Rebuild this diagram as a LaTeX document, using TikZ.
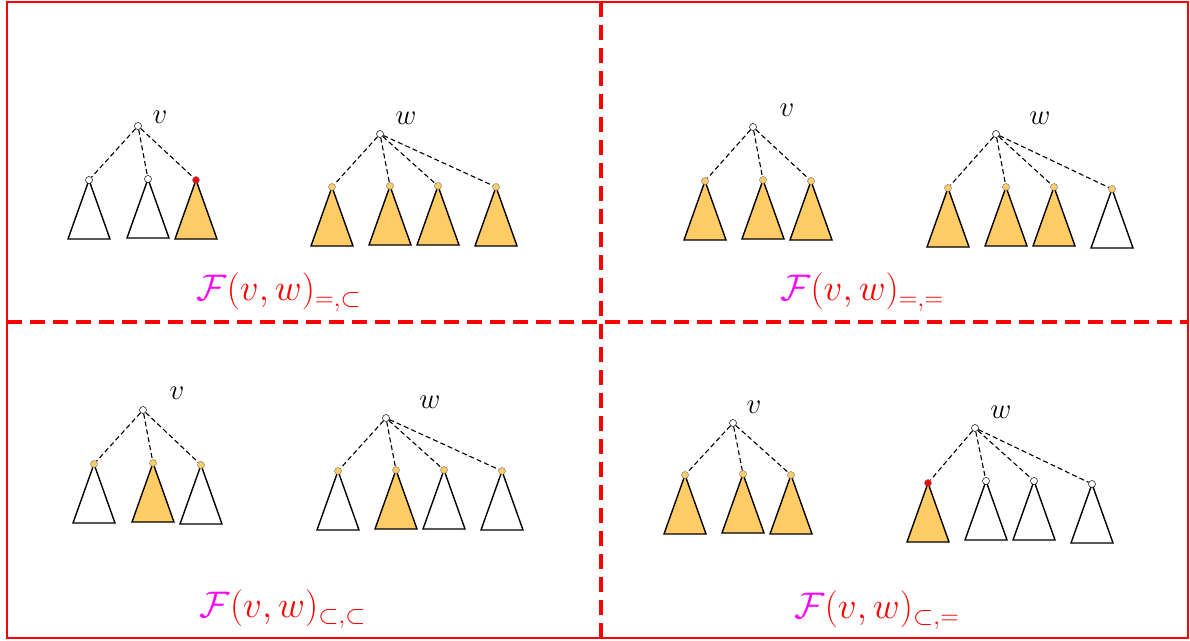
\documentclass[tikz,border=0pt]{standalone}
\usepackage{fix-cm}
\usepackage{amsmath}
\usetikzlibrary{positioning, backgrounds}
\definecolor{subOrange}{RGB}{255,204,102}
\definecolor{famMagenta}{RGB}{255,0,255}
\definecolor{famRed}{RGB}{255,0,0}
\tikzset{
    % Frame
    frame/.style={draw=famRed, line width=1.5pt},
    divider/.style={draw=famRed, line width=4pt, dash pattern=on 15pt off 8pt},
    % Dots
    dot/.style={circle, inner sep=0pt, minimum size=7pt, line width=0.5pt},
    rootDot/.style={dot, draw=black, fill=white},
    dotW/.style={dot, draw=black, fill=white},
    dotO/.style={dot, draw=black!50, fill=subOrange},
    dotR/.style={dot, draw=black!50, fill=famRed},
    % Subtrees
    full/.style={draw=black, line width=1.4pt, fill=subOrange},
    blank/.style={draw=black, line width=1.4pt, fill=white},
    link/.style={line width=1.1pt, dash pattern=on 5pt off 3pt},
    % Labels
    lbl/.style={inner sep=0pt, font=\fontsize{29}{31}\selectfont},
    fam/.style={inner sep=0pt, text=famRed, font=\fontsize{37}{40}\selectfont}
}
\newcommand{\subtri}[2]{%
    \begin{pgfonlayer}{background}
    \draw[#1] (#2.center) -- ++(-21,59) -- ++(42,0) -- cycle;
    \end{pgfonlayer}}

\begin{document}
\begin{tikzpicture}[x=1pt, y=-1pt]
\useasboundingbox (0,0) rectangle (1190,640);

\draw[frame] (7,2) rectangle (1188,638);
\draw[divider] (601,2) -- (601,638);
\draw[divider] (7,322) -- (1188,322);

% top left
\node[rootDot] (tlv) at (138,126) {};
\node[lbl] (tlvl) at (160,117) {$v$};
\foreach \i/\x/\y/\d/\s in {1/89/180/dotW/blank, 2/148/179/dotW/blank, 3/196/180/dotR/full} {
    \node[\d] (tlv\i) at (\x,\y) {};
    \subtri{\s}{tlv\i}
    \draw[link] (tlv) -- (tlv\i);
}
\node[rootDot] (tlw) at (380,134) {};
\node[lbl] (tlwl) at (406,118) {$w$};
\foreach \i/\x/\y/\d/\s in {1/332/187/dotO/full, 2/390/186/dotO/full, 3/438/186/dotO/full, 4/496/187/dotO/full} {
    \node[\d] (tlw\i) at (\x,\y) {};
    \subtri{\s}{tlw\i}
    \draw[link] (tlw) -- (tlw\i);
}
\node[fam] (tlf) at (279,292) {$\color{famMagenta}\mathcal{F}\color{famRed}(v,w)_{=,\subset}$};

% top right
\node[rootDot] (trv) at (753,127) {};
\node[lbl] (trvl) at (787,110) {$v$};
\foreach \i/\x/\y/\d/\s in {1/705/181/dotO/full, 2/763/180/dotO/full, 3/811/181/dotO/full} {
    \node[\d] (trv\i) at (\x,\y) {};
    \subtri{\s}{trv\i}
    \draw[link] (trv) -- (trv\i);
}
\node[rootDot] (trw) at (996,134) {};
\node[lbl] (trwl) at (1040,118) {$w$};
\foreach \i/\x/\y/\d/\s in {1/948/188/dotO/full, 2/1006/187/dotO/full, 3/1054/187/dotO/full, 4/1112/189/dotO/blank} {
    \node[\d] (trw\i) at (\x,\y) {};
    \subtri{\s}{trw\i}
    \draw[link] (trw) -- (trw\i);
}
\node[fam] (trf) at (862,292) {$\color{famMagenta}\mathcal{F}\color{famRed}(v,w)_{=,=}$};

% bottom left
\node[rootDot] (blv) at (143,410) {};
\node[lbl] (blvl) at (177,393) {$v$};
\foreach \i/\x/\y/\d/\s in {1/94/464/dotO/blank, 2/153/463/dotO/full, 3/201/465/dotO/blank} {
    \node[\d] (blv\i) at (\x,\y) {};
    \subtri{\s}{blv\i}
    \draw[link] (blv) -- (blv\i);
}
\node[rootDot] (blw) at (386,418) {};
\node[lbl] (blwl) at (430,402) {$w$};
\foreach \i/\x/\y/\d/\s in {1/338/471/dotO/blank, 2/396/470/dotO/full, 3/444/470/dotO/blank, 4/502/471/dotO/blank} {
    \node[\d] (blw\i) at (\x,\y) {};
    \subtri{\s}{blw\i}
    \draw[link] (blw) -- (blw\i);
}
\node[fam] (blf) at (283,609) {$\color{famMagenta}\mathcal{F}\color{famRed}(v,w)_{\subset,\subset}$};

% bottom right
\node[rootDot] (brv) at (733,423) {};
\node[lbl] (brvl) at (754,407) {$v$};
\foreach \i/\x/\y/\d/\s in {1/685/475/dotO/full, 2/743/474/dotO/full, 3/791/475/dotO/full} {
    \node[\d] (brv\i) at (\x,\y) {};
    \subtri{\s}{brv\i}
    \draw[link] (brv) -- (brv\i);
}
\node[rootDot] (brw) at (975,428) {};
\node[lbl] (brwl) at (1001,412) {$w$};
\foreach \i/\x/\y/\d/\s in {1/928/483/dotR/full, 2/986/481/dotW/blank, 3/1034/481/dotW/blank, 4/1092/484/dotW/blank} {
    \node[\d] (brw\i) at (\x,\y) {};
    \subtri{\s}{brw\i}
    \draw[link] (brw) -- (brw\i);
}
\node[fam] (brf) at (877,610) {$\color{famMagenta}\mathcal{F}\color{famRed}(v,w)_{\subset,=}$};

\end{tikzpicture}
\end{document}
